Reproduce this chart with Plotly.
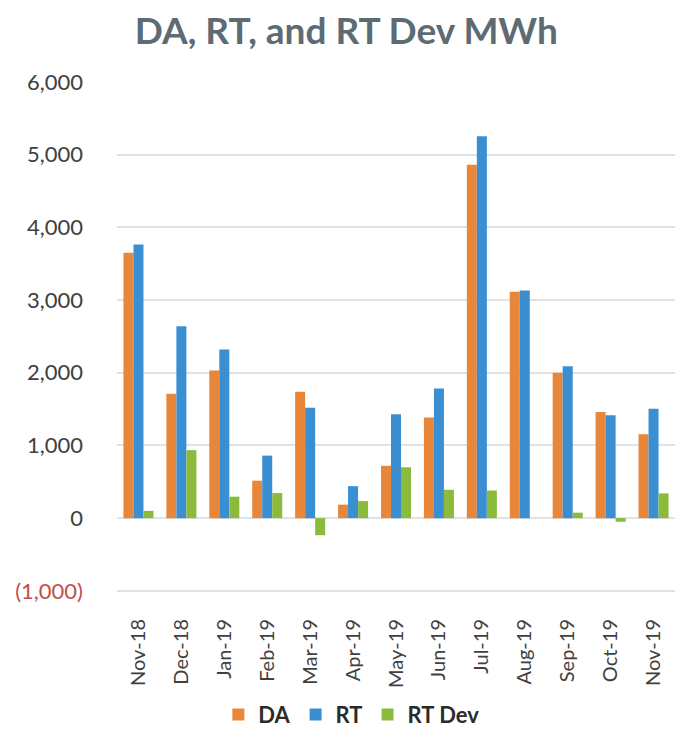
import plotly.graph_objects as go

months = ["Nov-18", "Dec-18", "Jan-19", "Feb-19", "Mar-19", "Apr-19", "May-19",
          "Jun-19", "Jul-19", "Aug-19", "Sep-19", "Oct-19", "Nov-19"]
da = [3650, 1710, 2030, 515, 1740, 185, 720, 1385, 4860, 3115, 2000, 1460, 1155]
rt = [3765, 2640, 2320, 860, 1520, 440, 1430, 1785, 5255, 3130, 2090, 1415, 1505]
rt_dev = [100, 935, 295, 345, -235, 235, 700, 390, 380, 0, 75, -50, 340]

y_ticks = [-1000, 0, 1000, 2000, 3000, 4000, 5000, 6000]
y_tick_text = ['<span style="color:#c0504d">(1,000)</span>', "0", "1,000", "2,000",
               "3,000", "4,000", "5,000", "6,000"]

colors = {"DA": "#E8873A", "RT": "#3A8FD3", "RT Dev": "#8CBB3C"}

fig = go.Figure()
for name, vals in [("DA", da), ("RT", rt), ("RT Dev", rt_dev)]:
    fig.add_trace(go.Bar(x=months, y=vals, name=f"<b>{name}</b>",
                         marker=dict(color=colors[name], line=dict(width=0))))

fig.update_layout(
    width=675, height=736,
    margin=dict(l=117, r=0, t=82, b=140),
    paper_bgcolor="white", plot_bgcolor="white",
    barmode="group", bargap=0.3, bargroupgap=0,
    font=dict(family="Lato, Open Sans, sans-serif", color="#404040"),
    title=dict(text="<b>DA, RT, and RT Dev MWh</b>", x=0.513, xanchor="center",
               y=0.958, yanchor="middle",
               font=dict(family="Lato, Open Sans, sans-serif", size=37, color="#5d6b75")),
    showlegend=True,
    legend=dict(orientation="h", x=0.42, xanchor="center", y=-0.238, yanchor="middle",
                font=dict(size=22, color="#2b2b2b"), itemwidth=30, traceorder="normal"),
    xaxis=dict(tickangle=-90, tickfont=dict(size=20, color="#404040"),
               showgrid=False, showline=False, ticks="", ticklabelstandoff=21),
    yaxis=dict(range=[-1030, 6000], tickvals=y_ticks, ticktext=y_tick_text,
               tickfont=dict(size=22, color="#404040"),
               showgrid=True, gridcolor="#e2e2e2", gridwidth=1.5,
               zeroline=True, zerolinecolor="#e2e2e2", zerolinewidth=1.5,
               showline=False, ticks="", ticklabelstandoff=33),
)

fig.write_html("out.html")
